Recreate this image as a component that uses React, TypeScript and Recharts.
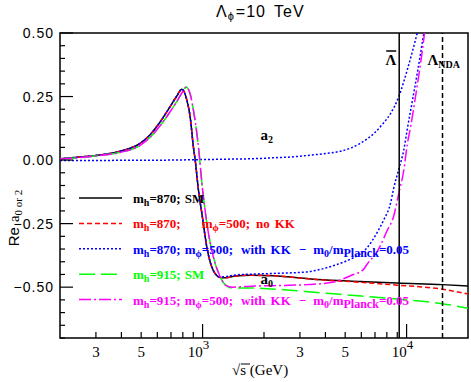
import React from 'react';
import { LineChart, Line, XAxis, YAxis, ReferenceLine, ReferenceArea, ReferenceDot, Legend } from 'recharts';

const SANS = '"Liberation Sans", Arial, Helvetica, sans-serif';
const SERIF = '"Liberation Serif", "Times New Roman", serif';

// sqrt(s) in GeV and Re a0 / a2 values
const smS870 = [200, 251, 314, 394, 494, 553, 619, 693, 745, 792, 838, 869, 902, 920, 955, 992, 1050, 1131, 1221, 1300, 1450, 1713, 2222, 3640, 6000, 9000, 14960, 20000];
const smA870 = [0.005, 0.012, 0.02, 0.035, 0.066, 0.1, 0.15, 0.21, 0.25, 0.279, 0.235, 0.17, 0.05, 0.0, -0.12, -0.21, -0.344, -0.436, -0.462, -0.463, -0.456, -0.453, -0.455, -0.47, -0.478, -0.484, -0.49, -0.495];

const noKkS = [200, 251, 314, 394, 494, 553, 619, 693, 745, 792, 838, 869, 902, 920, 955, 992, 1050, 1131, 1221, 1300, 1450, 1713, 2222, 3640, 6000, 9000, 14960, 20000];
const noKkA = [0.005, 0.012, 0.02, 0.035, 0.066, 0.1, 0.15, 0.21, 0.25, 0.279, 0.235, 0.17, 0.05, 0.0, -0.12, -0.21, -0.344, -0.436, -0.462, -0.463, -0.456, -0.453, -0.455, -0.47, -0.481, -0.492, -0.508, -0.527];

const kkA0S = [200, 251, 314, 394, 494, 553, 619, 693, 745, 792, 838, 869, 902, 920, 955, 992, 1050, 1131, 1221, 1300, 1450, 1713, 2222, 3250, 3640, 4400, 5300, 5900, 6400, 7170, 7730, 8340, 8650, 9160, 9690, 10070, 10600, 11270, 12150, 12600];
const kkA0A = [0.005, 0.012, 0.02, 0.035, 0.066, 0.1, 0.15, 0.21, 0.25, 0.279, 0.235, 0.17, 0.05, 0.0, -0.12, -0.21, -0.344, -0.436, -0.46, -0.458, -0.452, -0.449, -0.446, -0.44, -0.433, -0.415, -0.39, -0.37, -0.345, -0.285, -0.235, -0.17, -0.11, -0.035, 0.04, 0.12, 0.22, 0.34, 0.5, 0.58];

const kkA2S = [200, 400, 700, 1000, 1400, 1713, 2222, 2800, 3250, 4000, 4740, 5300, 5900, 6400, 6900, 7600, 8340, 9160, 9700, 10070, 10700, 11270, 11700];
const kkA2A = [-0.002, -0.001, 0.0, 0.002, 0.004, 0.005, 0.009, 0.013, 0.018, 0.026, 0.035, 0.047, 0.065, 0.083, 0.104, 0.14, 0.183, 0.25, 0.31, 0.354, 0.43, 0.5, 0.56];

const smS915 = [200, 251, 314, 394, 494, 553, 619, 693, 760, 800, 831, 869, 902, 955, 992, 1050, 1131, 1221, 1300, 1400, 1713, 2500, 3640, 6000, 9000, 14960, 20000];
const smA915 = [0.004, 0.01, 0.018, 0.03, 0.058, 0.09, 0.135, 0.19, 0.24, 0.27, 0.288, 0.26, 0.196, 0.05, -0.09, -0.25, -0.383, -0.46, -0.493, -0.503, -0.503, -0.51, -0.521, -0.535, -0.547, -0.565, -0.583];

const kk915S = [200, 251, 314, 394, 494, 553, 619, 693, 760, 800, 831, 869, 902, 955, 992, 1050, 1131, 1221, 1300, 1400, 1713, 2222, 3250, 4400, 5300, 6150, 6400, 7170, 7450, 8000, 8650, 9160, 9690, 10070, 10460, 11060, 11940, 12250, 12600];
const kk915A = [0.004, 0.01, 0.018, 0.03, 0.058, 0.09, 0.135, 0.19, 0.24, 0.27, 0.288, 0.26, 0.196, 0.05, -0.09, -0.25, -0.383, -0.46, -0.493, -0.5, -0.496, -0.494, -0.49, -0.48, -0.455, -0.43, -0.41, -0.36, -0.335, -0.28, -0.22, -0.13, -0.04, 0.06, 0.13, 0.25, 0.43, 0.5, 0.57];

const X_TICKS = [300, 400, 500, 600, 700, 800, 900, 1000, 2000, 3000, 4000, 5000, 6000, 7000, 8000, 9000, 10000];
const X_MAJOR = [1000, 10000];
const X_LABELS: Record<number, [string, string]> = { 300: ['3', ''], 500: ['5', ''], 1000: ['10', '3'], 3000: ['3', ''], 5000: ['5', ''], 10000: ['10', '4'] };
const Y_TICKS = [-0.7, -0.65, -0.6, -0.55, -0.5, -0.45, -0.4, -0.35, -0.3, -0.25, -0.2, -0.15, -0.1, -0.05, 0, 0.05, 0.1, 0.15, 0.2, 0.25, 0.3, 0.35, 0.4, 0.45, 0.5];
const Y_MAJOR = [-0.5, -0.25, 0, 0.25, 0.5];
const Y_LABELS = ['−0.50', '−0.25', '0.00', '0.25', '0.50'];
const LAMBDA_BAR = 9200;
const LAMBDA_NDA = 15000;

const pts = (xs: number[], ys: number[]) => xs.map((s, i) => ({ s, v: ys[i] }));

const isMajorY = (v: number) => Y_MAJOR.findIndex((m) => Math.abs(m - v) < 1e-6);

const BottomTick = (props: any) => {
  const { x, y, payload } = props;
  const v = payload.value;
  const len = X_MAJOR.includes(v) ? 14 : 6;
  const lab = X_LABELS[v];
  return (
    <g>
      <line x1={x} x2={x} y1={y} y2={y - len} stroke="#000" strokeWidth={1.2} />
      {lab && (
        <text x={lab[1] ? x - 4 : x} y={y + 19} textAnchor="middle" fontFamily={SERIF} fontSize={15} fill="#000">
          {lab[0]}
          {lab[1] ? <tspan dy={-8} fontSize={13}>{lab[1]}</tspan> : null}
        </text>
      )}
    </g>
  );
};

const TopTick = (props: any) => {
  const { x, y, payload } = props;
  const len = X_MAJOR.includes(payload.value) ? 14 : 6;
  return <line x1={x} x2={x} y1={y} y2={y + len} stroke="#000" strokeWidth={1.2} />;
};

const LeftTick = (props: any) => {
  const { x, y, payload } = props;
  const mi = isMajorY(payload.value);
  const len = mi >= 0 ? 13 : 5;
  return (
    <g>
      <line x1={x} x2={x + len} y1={y} y2={y} stroke="#000" strokeWidth={1.2} />
      {mi >= 0 && (
        <text x={x - 6} y={y} dy="0.36em" textAnchor="end" fontFamily={SANS} fontSize={14} letterSpacing={1} fill="#000">
          {Y_LABELS[mi]}
        </text>
      )}
    </g>
  );
};

const RightTick = (props: any) => {
  const { x, y, payload } = props;
  const len = isMajorY(payload.value) >= 0 ? 13 : 5;
  return <line x1={x} x2={x - len} y1={y} y2={y} stroke="#000" strokeWidth={1.2} />;
};

const Mh = (v: string) => (
  <>
    <tspan>m</tspan>
    <tspan dy={3} fontSize={10}>h</tspan>
    <tspan dy={-3}>={v};</tspan>
  </>
);

const KkRow = (v: string) => (
  <>
    {Mh(v)}
    <tspan dx={4}>m</tspan>
    <tspan dy={3} fontSize={10}>ϕ</tspan>
    <tspan dy={-3}>=500;</tspan>
    <tspan dx={8}>with</tspan>
    <tspan dx={5}>KK</tspan>
    <tspan dx={8}>−</tspan>
    <tspan dx={7}>m</tspan>
    <tspan dy={3} fontSize={10}>0</tspan>
    <tspan dy={-3}>/m</tspan>
    <tspan dy={3} fontSize={12}>Planck</tspan>
    <tspan dy={-3}>=0.05</tspan>
  </>
);

const LEGEND_LABELS = [
  <>{Mh('870')}<tspan dx={4}>SM</tspan></>,
  <>
    {Mh('870')}
    <tspan dx={21}>m</tspan>
    <tspan dy={3} fontSize={10}>ϕ</tspan>
    <tspan dy={-3}>=500;</tspan>
    <tspan dx={6}>no</tspan>
    <tspan dx={5}>KK</tspan>
  </>,
  KkRow('870'),
  <>{Mh('915')}<tspan dx={4}>SM</tspan></>,
  KkRow('915'),
];
const LEGEND_DASH = ['', '5 3', '2 2', '16 6', '12 3 2 3'];

const LegendBox = (props: any) => {
  const entries = (props.payload || []).filter((e: any) => e.type !== 'none');
  return (
    <svg width={471} height={382} style={{ position: 'absolute', left: 0, top: 0 }}>
      <text x={216} y={17} fontFamily={SANS} fontSize={16} letterSpacing={1} fill="#000">
        Λ<tspan dy={3} fontSize={11}>ϕ</tspan><tspan dy={-3} dx={1}>=10</tspan><tspan dx={8}>TeV</tspan>
      </text>
      {entries.map((e: any, i: number) => {
        const y = 198 + i * 25.4;
        return (
          <g key={i}>
            <line x1={79} x2={122} y1={y} y2={y} stroke={e.color} strokeWidth={1.5} strokeDasharray={LEGEND_DASH[i]} />
            <text x={133} y={y + 5} fontFamily={SERIF} fontWeight="bold" fontSize={13} fill={e.color}>
              {LEGEND_LABELS[i]}
            </text>
          </g>
        );
      })}
    </svg>
  );
};

const lineCommon = { dataKey: 'v', dot: false, isAnimationActive: false, type: 'monotone' as const, strokeWidth: 1.5, activeDot: false };

export default function App() {
  return (
    <div style={{ position: 'absolute', left: 0, top: 0, width: 471, height: 382, background: '#fff' }}>
      <LineChart width={471} height={382} margin={{ top: 33, right: 3, bottom: 0, left: 0 }}>
        <XAxis
          dataKey="s"
          type="number"
          scale="log"
          domain={[200, 20000]}
          allowDataOverflow
          ticks={X_TICKS}
          interval={0}
          tick={<BottomTick />}
          tickSize={0}
          tickMargin={0}
          tickLine={false}
          axisLine={false}
          height={44}
          label={{
            content: (p: any) => {
              const vb = p.viewBox;
              return (
                <g>
                  <text x={vb.x + 172} y={vb.y + 37} fontFamily={SERIF} fontSize={15} fill="#000">
                    √s (GeV)
                  </text>
                  <line x1={vb.x + 181} x2={vb.x + 190} y1={vb.y + 26} y2={vb.y + 26} stroke="#000" strokeWidth={1} />
                </g>
              );
            },
          }}
        />
        <XAxis
          xAxisId="top"
          orientation="top"
          dataKey="s"
          type="number"
          scale="log"
          domain={[200, 20000]}
          allowDataOverflow
          ticks={X_TICKS}
          interval={0}
          tick={<TopTick />}
          tickSize={0}
          tickMargin={0}
          tickLine={false}
          axisLine={false}
          height={0}
        />
        <YAxis
          type="number"
          domain={[-0.7, 0.5]}
          allowDataOverflow
          ticks={Y_TICKS}
          interval={0}
          tick={<LeftTick />}
          tickSize={0}
          tickMargin={0}
          tickLine={false}
          axisLine={false}
          width={60}
          label={{
            content: (p: any) => {
              const vb = p.viewBox;
              const cx = vb.x + 14;
              const cy = vb.y + 185;
              return (
                <text x={cx} y={cy} transform={`rotate(-90 ${cx} ${cy})`} textAnchor="middle" dy="0.35em" fontFamily={SERIF} fontSize={15} fill="#000">
                  <tspan fontFamily={SANS}>Re</tspan>
                  <tspan dx={5}>a</tspan>
                  <tspan dy={3} fontSize={11}>0 or 2</tspan>
                </text>
              );
            },
          }}
        />
        <YAxis
          yAxisId="right"
          orientation="right"
          type="number"
          domain={[-0.7, 0.5]}
          allowDataOverflow
          ticks={Y_TICKS}
          interval={0}
          tick={<RightTick />}
          tickSize={0}
          tickMargin={0}
          tickLine={false}
          axisLine={false}
          width={0}
        />

        <Line {...lineCommon} data={pts(smS870, smA870)} stroke="#000000" name="mh=870; SM" />
        <Line {...lineCommon} data={pts(noKkS, noKkA)} stroke="#ff0000" strokeDasharray="5 3" name="mh=870; mphi=500; no KK" />
        <Line {...lineCommon} data={pts(kkA2S, kkA2A)} stroke="#0000ff" strokeDasharray="2 2" legendType="none" name="a2 with KK" />
        <Line {...lineCommon} data={pts(kkA0S, kkA0A)} stroke="#0000ff" strokeDasharray="2 2" name="mh=870; mphi=500; with KK" />
        <Line {...lineCommon} data={pts(smS915, smA915)} stroke="#00ff00" strokeDasharray="16 6" name="mh=915; SM" />
        <Line {...lineCommon} data={pts(kk915S, kk915A)} stroke="#ff00ff" strokeDasharray="12 3 2 3" name="mh=915; mphi=500; with KK" />

        <ReferenceLine
          x={LAMBDA_BAR}
          stroke="#000"
          strokeWidth={1.5}
          label={{
            content: (p: any) => {
              const vb = p.viewBox;
              return (
                <g>
                  <text x={vb.x - 3} y={vb.y + 32} textAnchor="end" fontFamily={SERIF} fontWeight="bold" fontSize={15} fill="#000">Λ</text>
                  <line x1={vb.x - 13} x2={vb.x - 3} y1={vb.y + 18} y2={vb.y + 18} stroke="#000" strokeWidth={1.5} />
                </g>
              );
            },
          }}
        />
        <ReferenceLine
          x={LAMBDA_NDA}
          stroke="#000"
          strokeWidth={1.5}
          strokeDasharray="5 3"
          label={{
            content: (p: any) => {
              const vb = p.viewBox;
              return (
                <text x={vb.x - 15} y={vb.y + 32} fontFamily={SERIF} fontWeight="bold" fontSize={15} fill="#000">
                  Λ<tspan dy={3} fontSize={10}>NDA</tspan>
                </text>
              );
            },
          }}
        />
        <ReferenceDot
          x={1920}
          y={0.078}
          r={0}
          fill="none"
          stroke="none"
          label={{
            content: (p: any) => {
              const vb = p.viewBox;
              return (
                <text x={vb.x} y={vb.y} fontFamily={SERIF} fontWeight="bold" fontSize={15} fill="#000">
                  a<tspan dy={3} fontSize={10}>2</tspan>
                </text>
              );
            },
          }}
        />
        <ReferenceDot
          x={1920}
          y={-0.487}
          r={0}
          fill="none"
          stroke="none"
          label={{
            content: (p: any) => {
              const vb = p.viewBox;
              return (
                <text x={vb.x} y={vb.y} fontFamily={SERIF} fontWeight="bold" fontSize={15} fill="#000">
                  a<tspan dy={3} fontSize={10}>0</tspan>
                </text>
              );
            },
          }}
        />
        <ReferenceArea x1={200} x2={20000} y1={-0.7} y2={0.5} fill="none" stroke="#000" strokeWidth={1.5} />
        <Legend
          layout="vertical"
          align="center"
          verticalAlign="middle"
          content={<LegendBox />}
          wrapperStyle={{ left: 0, top: 0, width: 471, height: 382, pointerEvents: 'none' }}
        />
      </LineChart>
    </div>
  );
}
